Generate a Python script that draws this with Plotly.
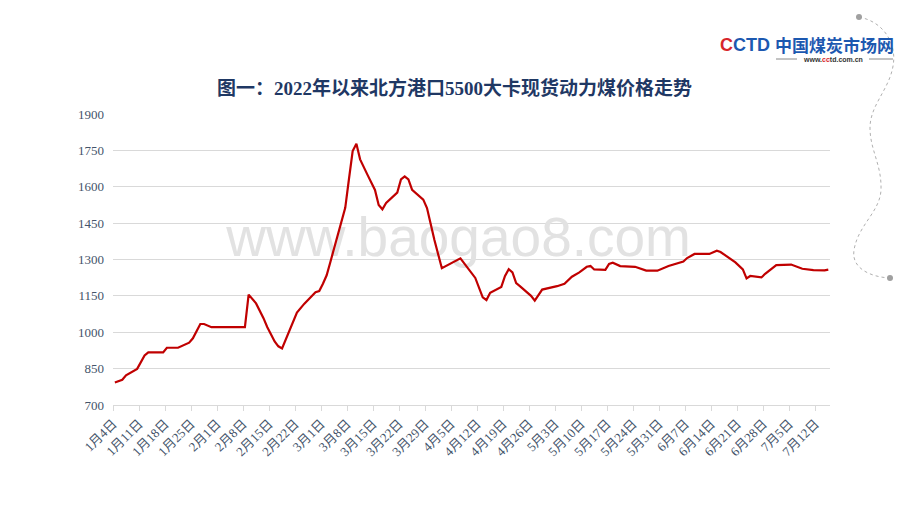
import plotly.graph_objects as go
import pandas as pd

# ---------------- data ----------------
dates = [
    "2022-01-04", "2022-01-06", "2022-01-07", "2022-01-10", "2022-01-12", "2022-01-13",
    "2022-01-17", "2022-01-18", "2022-01-21", "2022-01-24", "2022-01-25", "2022-01-27",
    "2022-01-28", "2022-01-30", "2022-02-08", "2022-02-09", "2022-02-11", "2022-02-12",
    "2022-02-13", "2022-02-14", "2022-02-15", "2022-02-16", "2022-02-17", "2022-02-18",
    "2022-02-22", "2022-02-24", "2022-02-27", "2022-02-28", "2022-03-01", "2022-03-02",
    "2022-03-03", "2022-03-05", "2022-03-07", "2022-03-08", "2022-03-09", "2022-03-10",
    "2022-03-11", "2022-03-13", "2022-03-15", "2022-03-16", "2022-03-17", "2022-03-18",
    "2022-03-21", "2022-03-22", "2022-03-23", "2022-03-24", "2022-03-25", "2022-03-28",
    "2022-03-29", "2022-03-31", "2022-04-02", "2022-04-07", "2022-04-10", "2022-04-11",
    "2022-04-13", "2022-04-14", "2022-04-15", "2022-04-18", "2022-04-19", "2022-04-20",
    "2022-04-21", "2022-04-22", "2022-04-23", "2022-04-26", "2022-04-27", "2022-04-29",
    "2022-05-03", "2022-05-05", "2022-05-07", "2022-05-09", "2022-05-11", "2022-05-12",
    "2022-05-13", "2022-05-16", "2022-05-17", "2022-05-18", "2022-05-20", "2022-05-24",
    "2022-05-27", "2022-05-30", "2022-06-02", "2022-06-06", "2022-06-07", "2022-06-09",
    "2022-06-13", "2022-06-15", "2022-06-16", "2022-06-20", "2022-06-22", "2022-06-23",
    "2022-06-24", "2022-06-27", "2022-06-28", "2022-07-01", "2022-07-05", "2022-07-08",
    "2022-07-11", "2022-07-14", "2022-07-15",
]
prices = [
    793, 804, 822, 849, 904, 917,
    917, 936, 936, 957, 975, 1034,
    1034, 1021, 1021, 1155, 1119, 1090,
    1058, 1022, 992, 962, 942, 933,
    1081, 1118, 1165, 1170, 1200, 1235,
    1290, 1402, 1513, 1632, 1747, 1777,
    1713, 1649, 1587, 1525, 1507, 1533,
    1576, 1630, 1643, 1630, 1587, 1547,
    1512, 1380, 1264, 1305, 1246, 1224,
    1144, 1133, 1163, 1187, 1232, 1260,
    1247, 1203, 1190, 1150, 1130, 1176,
    1190, 1200, 1229, 1247, 1270, 1273,
    1259, 1257, 1282, 1287, 1273, 1270,
    1254, 1254, 1273, 1292, 1306, 1323,
    1323, 1336, 1331, 1288, 1259, 1222,
    1232, 1226, 1241, 1277, 1279, 1262,
    1256, 1255, 1258,
]
tick_labels = [
    "1月4日", "1月11日", "1月18日", "1月25日", "2月1日", "2月8日", "2月15日",
    "2月22日", "3月1日", "3月8日", "3月15日", "3月22日", "3月29日", "4月5日",
    "4月12日", "4月19日", "4月26日", "5月3日", "5月10日", "5月17日", "5月24日",
    "5月31日", "6月7日", "6月14日", "6月21日", "6月28日", "7月5日", "7月12日",
]
tick_dates = pd.date_range("2022-01-04", periods=len(tick_labels), freq="7D")
y_ticks = [700, 850, 1000, 1150, 1300, 1450, 1600, 1750, 1900]

title_text = "图一：2022年以来北方港口5500大卡现货动力煤价格走势"
watermark = "www.baogao8.com"

# ---------------- figure ----------------
W, H = 920, 518
ML, MR, MT, MB = 113, 90, 114, 113
PW, PH = W - ML - MR, H - MT - MB


def px(xp):
    return (xp - ML) / PW


def py(yp):
    return (H - MB - yp) / PH


fig = go.Figure()

# watermark drawn below the line
fig.add_trace(go.Scatter(
    x=[pd.Timestamp("2022-04-06 12:00")], y=[1372], mode="text", text=[watermark],
    textfont=dict(family="Liberation Sans, Arial, sans-serif", size=55, color="#e2e2e2"),
    hoverinfo="skip", showlegend=False, cliponaxis=False,
))

fig.add_trace(go.Scatter(
    x=pd.to_datetime(dates), y=prices, mode="lines",
    line=dict(color="#C00000", width=2.2),
    showlegend=False,
))

serif = "Liberation Serif, Times New Roman, Noto Sans CJK SC, serif"
axis_col = "#d9d9d9"
lab_col = "#44546A"

fig.update_layout(
    width=W, height=H,
    margin=dict(l=ML, r=MR, t=MT, b=MB, autoexpand=False),
    paper_bgcolor="white", plot_bgcolor="white",
    xaxis=dict(
        type="date", automargin=False,
        range=[pd.Timestamp("2022-01-03 12:00"), pd.Timestamp("2022-07-15 11:00")],
        tickmode="array",
        tickvals=list(tick_dates - pd.Timedelta(hours=12)),
        ticktext=tick_labels,
        tickangle=-45,
        tickfont=dict(family=serif, size=13, color=lab_col),
        showgrid=False, showline=True, linecolor=axis_col, linewidth=1,
        ticks="outside", ticklen=5, tickcolor=axis_col, zeroline=False,
    ),
    yaxis=dict(
        range=[700, 1900], tickmode="array", tickvals=y_ticks, automargin=False,
        tickfont=dict(family=serif, size=13, color=lab_col),
        showgrid=True, gridcolor=axis_col, gridwidth=1,
        zeroline=False, showline=False, ticks="", ticklabelstandoff=8,
    ),
    font=dict(family=serif),
)

# title
fig.add_annotation(
    text="<b>" + title_text + "</b>", xref="paper", yref="paper",
    x=px(454), y=py(88), xanchor="center", yanchor="middle", showarrow=False,
    font=dict(family="Liberation Serif, Noto Sans CJK SC, serif", size=19, color="#1F3864"),
)

# logo
fig.add_annotation(
    text="<b><span style='color:#D7262B'>C</span><span style='color:#1C58B0'>CTD</span></b>",
    xref="paper", yref="paper", x=px(745), y=py(45), xanchor="center", yanchor="middle",
    showarrow=False, font=dict(family="Liberation Sans, Arial, sans-serif", size=18),
)
fig.add_annotation(
    text="<b>中国煤炭市场网</b>", xref="paper", yref="paper", x=px(834), y=py(45),
    xanchor="center", yanchor="middle", showarrow=False,
    font=dict(family="Noto Sans CJK SC, sans-serif", size=17, color="#1C58B0"),
)
fig.add_annotation(
    text="<b>www.<span style='color:#D7262B'>cc</span>td.com.cn</b>", xref="paper", yref="paper",
    x=px(833), y=py(59), xanchor="center", yanchor="middle", showarrow=False,
    font=dict(family="Liberation Sans, Arial, sans-serif", size=7, color="#333333"),
)
for x0, x1 in [(776, 797), (869, 893)]:
    fig.add_shape(type="line", xref="paper", yref="paper", x0=px(x0), x1=px(x1),
                  y0=py(59), y1=py(59), line=dict(color="#888888", width=1))

# decorative dashed curve
pts = [(859, 17), (885, 22), (897, 45), (893, 66), (889, 90), (870, 105), (870, 128),
       (870, 150), (882, 165), (881, 190), (880, 212), (858, 225), (854, 250),
       (851, 268), (870, 277), (890, 278)]
path = "M {:.4f},{:.4f}".format(px(pts[0][0]), py(pts[0][1]))
for i in range(1, len(pts), 3):
    seg = pts[i:i + 3]
    path += " C " + " ".join("{:.4f},{:.4f}".format(px(a), py(b)) for a, b in seg)
fig.add_shape(type="path", xref="paper", yref="paper", path=path,
              line=dict(color="#b0b0b0", width=1, dash="3px,3px"))
for cx, cy in [(859, 17), (890, 278)]:
    fig.add_shape(type="circle", xref="paper", yref="paper",
                  x0=px(cx - 3), x1=px(cx + 3), y0=py(cy - 3), y1=py(cy + 3),
                  fillcolor="#a0a0a0", line=dict(width=0))

fig.write_html(
    "out.html",
    config={"displayModeBar": False},
    post_script="document.body.style.margin='0';document.body.style.overflow='hidden';",
)
